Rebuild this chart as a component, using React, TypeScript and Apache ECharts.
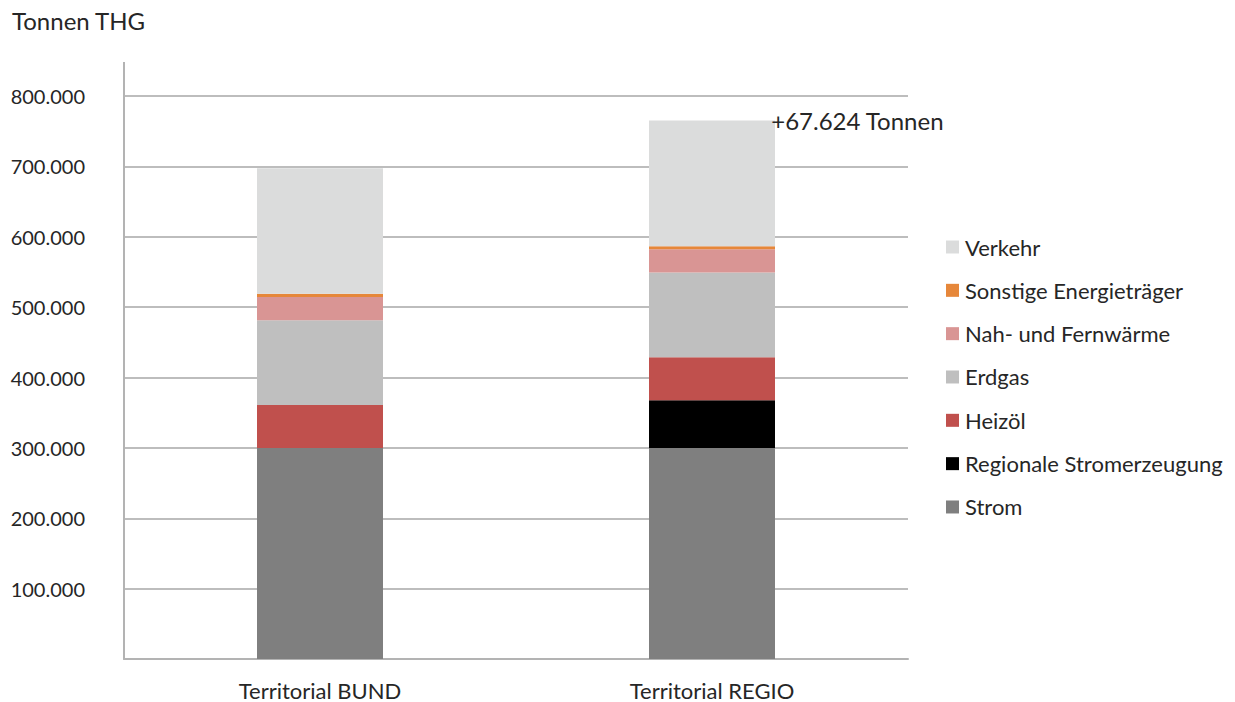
import React, { useEffect, useRef } from "react";
import * as echarts from "echarts";

const categories = ["Territorial BUND", "Territorial REGIO"];
const seriesNames = [
  "Strom",
  "Regionale Stromerzeugung",
  "Heizöl",
  "Erdgas",
  "Nah- und Fernwärme",
  "Sonstige Energieträger",
  "Verkehr",
];
const strom = [300000, 300000];
const regionale = [0, 67624];
const heizoel = [61000, 61000];
const erdgas = [120500, 120500];
const nahFern = [33000, 33000];
const sonstige = [4500, 4500];
const verkehr = [178500, 178500];
const colors = ["#7f7f7f", "#000000", "#c0504d", "#bfbfbf", "#d99594", "#e6873a", "#dbdcdc"];
const yTicks = [0, 100000, 200000, 300000, 400000, 500000, 600000, 700000, 800000];

const FONT = "Lato";

function fmt(v: number): string {
  return Math.round(v).toString().replace(/\B(?=(\d{3})+(?!\d))/g, ".");
}

export default function App() {
  const ref = useRef<HTMLDivElement>(null);
  useEffect(() => {
    if (!ref.current) return;
    const chart = echarts.init(ref.current, undefined, { renderer: "svg" });
    const allData = [strom, regionale, heizoel, erdgas, nahFern, sonstige, verkehr];
    const totals = categories.map((_, i) => allData.reduce((s, arr) => s + arr[i], 0));
    const diff = totals[1] - totals[0];
    const series = allData.map((d, si) => ({
      name: seriesNames[si],
      type: "bar",
      stack: "total",
      barWidth: 126,
      itemStyle: { color: colors[si] },
      data: d.map((v, i) => {
        if (si === allData.length - 1 && i === 1) {
          return {
            value: v,
            label: {
              show: true,
              position: ["97%", 0],
              align: "left",
              verticalAlign: "middle",
              formatter: "+" + fmt(diff) + " Tonnen",
              fontFamily: FONT,
              fontSize: 24,
              color: "#262626",
            },
          };
        }
        return v;
      }),
    }));
    chart.setOption({
      animation: false,
      textStyle: { fontFamily: FONT },
      title: {
        text: "Tonnen THG",
        left: 12,
        top: 8,
        padding: 0,
        textStyle: { fontFamily: FONT, fontSize: 24, fontWeight: "normal", color: "#262626" },
      },
      grid: { left: 124, right: 327, top: 96, bottom: 43 },
      legend: {
        orient: "vertical",
        left: 941,
        top: 231,
        itemWidth: 13,
        itemHeight: 13,
        itemGap: 21.33,
        icon: "rect",
        data: seriesNames.slice().reverse(),
        textStyle: { fontFamily: FONT, fontSize: 22, color: "#262626", lineHeight: 22, padding: [0, 0, 0, 1] },
      },
      xAxis: {
        type: "category",
        data: categories,
        axisLine: { show: true, lineStyle: { color: "#b3b3b3", width: 2 } },
        axisTick: { show: false },
        axisLabel: { margin: 20, fontFamily: FONT, fontSize: 22, color: "#262626" },
      },
      yAxis: {
        type: "value",
        min: yTicks[0],
        max: yTicks[yTicks.length - 1],
        interval: 100000,
        axisLine: { show: true, lineStyle: { color: "#b3b3b3", width: 2 } },
        axisTick: { show: false },
        splitLine: { lineStyle: { color: "#bdbdbd", width: 2 } },
        axisLabel: {
          margin: 39,
          fontFamily: FONT,
          fontSize: 20,
          color: "#262626",
          formatter: (v: number) => (v === 0 ? "" : fmt(v)),
        },
      },
      graphic: [
        {
          type: "line",
          shape: { x1: 124, y1: 62, x2: 124, y2: 97 },
          style: { stroke: "#b3b3b3", lineWidth: 2 },
        },
      ],
      series,
    });
    return () => chart.dispose();
  }, []);
  return (
    <div
      ref={ref}
      style={{ position: "absolute", left: 0, top: 0, width: 1235, height: 702, background: "#fff" }}
    />
  );
}
